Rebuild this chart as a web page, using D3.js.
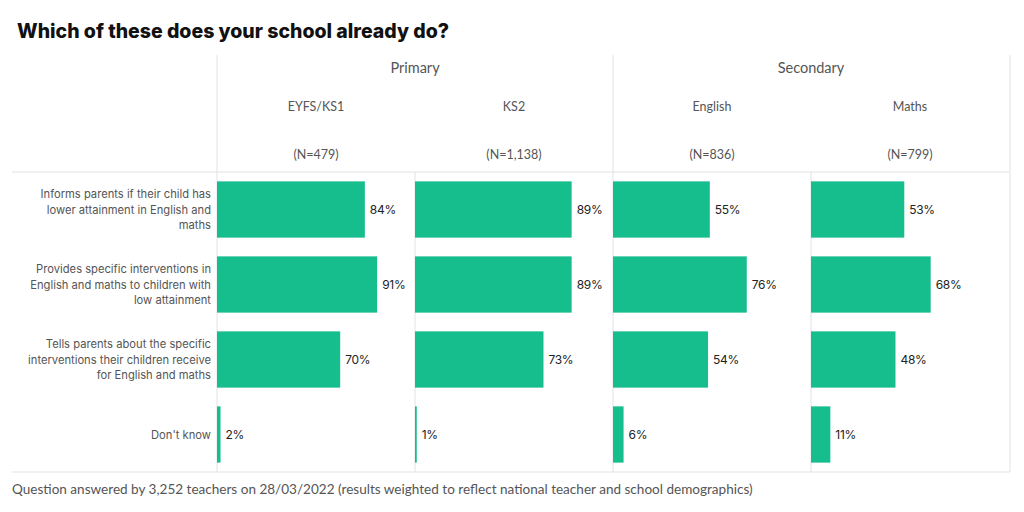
<!DOCTYPE html>
<html>
<head>
<meta charset="utf-8">
<script src="https://cdn.jsdelivr.net/npm/d3@7"></script>
<style>
  body { margin: 0; background: #fff; }
</style>
</head>
<body>
<div id="chart"></div>
<script>
const categories = [
    ["Informs parents if their child has", "lower attainment in English and", "maths"],
    ["Provides specific interventions in", "English and maths to children with", "low attainment"],
    ["Tells parents about the specific", "interventions their children receive", "for English and maths"],
    ["Don't know"]
];
const phases = ["Primary", "Secondary"];
const groups = ["EYFS/KS1", "KS2", "English", "Maths"];
const sampleSizes = ["(N=479)", "(N=1,138)", "(N=836)", "(N=799)"];
const eyfsValues = [84, 91, 70, 2];
const ks2Values = [89, 89, 73, 1];
const englishValues = [55, 76, 54, 6];
const mathsValues = [53, 68, 48, 11];
const title = "Which of these does your school already do?";
const footnote = "Question answered by 3,252 teachers on 28/03/2022 (results weighted to reflect national teacher and school demographics)";

const seriesValues = [eyfsValues, ks2Values, englishValues, mathsValues];

const width = 1024, height = 512;
const plotLeft = 217, plotRight = 1009, plotTop = 55, headBottom = 172, plotBottom = 472;
const barColor = "#16bd8d";
const lineColor = "#e2e2e2";

const svg = d3.select("#chart").append("svg")
    .attr("width", width)
    .attr("height", height);

svg.append("text")
    .attr("x", 17).attr("y", 38)
    .attr("font-family", "Inter, sans-serif")
    .attr("font-weight", 800)
    .attr("font-size", 19.5)
    .attr("fill", "#111")
    .text(title);

const panel = d3.scaleBand().domain(groups).range([plotLeft, plotRight]);
const phaseX = d3.scaleBand().domain(phases).range([plotLeft, plotRight]);
const y = d3.scaleBand().domain(d3.range(categories.length)).range([headBottom, plotBottom])
    .paddingInner(0.25).paddingOuter(0.125);
const x = d3.scaleLinear().domain([0, 100]).range([0, 176]);

// grid lines
const grid = svg.append("g").attr("stroke", lineColor).attr("stroke-width", 1);
grid.append("line").attr("x1", 12).attr("x2", plotRight).attr("y1", headBottom).attr("y2", headBottom);
grid.append("line").attr("x1", 12).attr("x2", plotRight + 1).attr("y1", plotBottom).attr("y2", plotBottom);
phases.forEach(p => {
    grid.append("line").attr("x1", phaseX(p)).attr("x2", phaseX(p)).attr("y1", plotTop).attr("y2", plotBottom);
});
grid.append("line").attr("x1", plotRight + 1).attr("x2", plotRight + 1).attr("y1", plotTop).attr("y2", plotBottom);
groups.forEach((g, i) => {
    if (i % 2 === 1) {
        grid.append("line").attr("x1", panel(g)).attr("x2", panel(g)).attr("y1", headBottom).attr("y2", plotBottom);
    }
});

// headers
svg.append("g").selectAll("text").data(phases).enter().append("text")
    .attr("x", d => phaseX(d) + phaseX.bandwidth() / 2)
    .attr("y", 73)
    .attr("text-anchor", "middle")
    .attr("font-family", "Lato, sans-serif")
    .attr("font-size", 14.5)
    .attr("fill", "#555")
    .text(d => d);

svg.append("g").selectAll("text").data(groups).enter().append("text")
    .attr("x", d => panel(d) + panel.bandwidth() / 2)
    .attr("y", 111)
    .attr("text-anchor", "middle")
    .attr("font-family", "Lato, sans-serif")
    .attr("font-size", 12.5)
    .attr("fill", "#555")
    .text(d => d);

svg.append("g").selectAll("text").data(sampleSizes).enter().append("text")
    .attr("x", (d, i) => panel(groups[i]) + panel.bandwidth() / 2)
    .attr("y", 159)
    .attr("text-anchor", "middle")
    .attr("font-family", "Lato, sans-serif")
    .attr("font-size", 12.5)
    .attr("fill", "#555")
    .text(d => d);

// category labels
const labels = svg.append("g").selectAll("text").data(categories).enter().append("text")
    .attr("text-anchor", "end")
    .attr("font-family", "Inter, sans-serif")
    .attr("font-size", 11.2)
    .attr("fill", "#555");
labels.each(function(lines, i) {
    const cy = y(i) + y.bandwidth() / 2;
    const lh = 15.5;
    d3.select(this).selectAll("tspan").data(lines).enter().append("tspan")
        .attr("x", 211)
        .attr("y", (d, j) => cy + (j - (lines.length - 1) / 2) * lh + 4)
        .text(d => d);
});

// bars
groups.forEach((g, gi) => {
    const grp = svg.append("g").attr("transform", `translate(${panel(g)},0)`);
    const vals = seriesValues[gi];
    grp.selectAll("rect").data(vals).enter().append("rect")
        .attr("x", 0)
        .attr("y", (d, i) => y(i))
        .attr("width", d => x(d))
        .attr("height", y.bandwidth())
        .attr("fill", barColor);
    grp.selectAll("text").data(vals).enter().append("text")
        .attr("x", d => x(d) + 5)
        .attr("y", (d, i) => y(i) + y.bandwidth() / 2 + 4.5)
        .attr("font-family", "Inter, sans-serif")
        .attr("font-size", 12)
        .attr("letter-spacing", -0.3)
        .attr("fill", "#222")
        .text(d => d + "%");
});

svg.append("text")
    .attr("x", 12).attr("y", 494)
    .attr("font-family", "Lato, sans-serif")
    .attr("font-size", 13.55)
    .attr("fill", "#555")
    .text(footnote);
</script>
</body>
</html>
